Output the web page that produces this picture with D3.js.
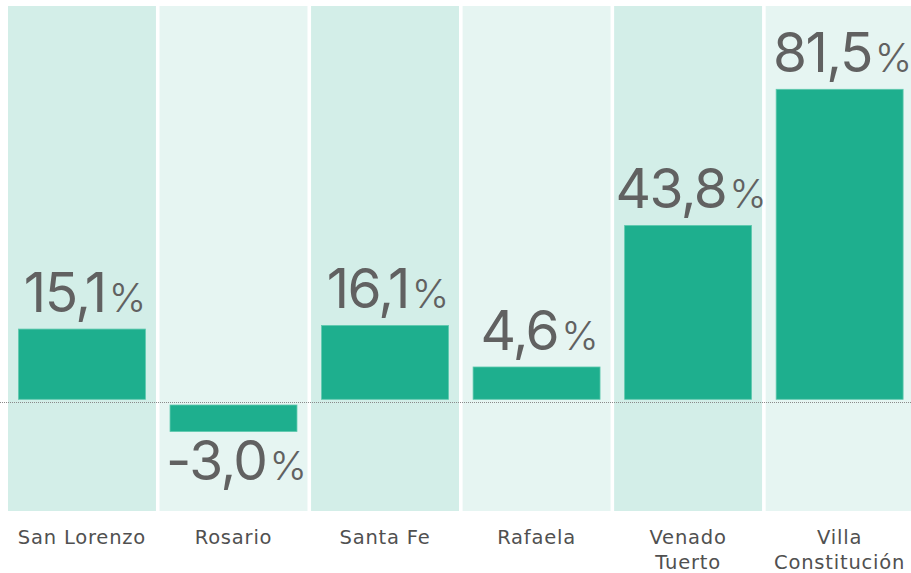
<!DOCTYPE html>
<html>
<head>
<meta charset="utf-8">
<script src="https://cdn.jsdelivr.net/npm/d3@7"></script>
<style>
  html, body { margin: 0; padding: 0; background: #ffffff; }
  svg { display: block; }
</style>
</head>
<body>
<svg id="chart" width="911" height="573"></svg>
<script>
// ---- data ----
const categories = ["San Lorenzo", "Rosario", "Santa Fe", "Rafaela", "Venado Tuerto", "Villa Constitución"];
const categoryLines = [["San Lorenzo"], ["Rosario"], ["Santa Fe"], ["Rafaela"], ["Venado", "Tuerto"], ["Villa", "Constitución"]];
const values = [15.1, -3.0, 16.1, 4.6, 43.8, 81.5];
const valueLabels = ["15,1", "-3,0", "16,1", "4,6", "43,8", "81,5"];

// ---- layout ----
const W = 911, H = 573;
const bandTop = 6, bandBottom = 511;
const zeroY = 402.5;
const posBase = 399.3, negBase = 405;
const svg = d3.select("#chart");

const x = d3.scaleBand()
  .domain(categories)
  .range([8, 913.6])
  .paddingInner(0.0237)
  .paddingOuter(0);

const maxV = d3.max(values);
// bar length scale (px)
const len = d3.scaleLinear().domain([0, maxV]).range([15.7, 310]);

const bandColors = ["#d3eee8", "#e6f5f2"];
const barColor = "#1eaf8e";
const textColor = "#616161";

// background bands
svg.append("g").selectAll("rect")
  .data(categories)
  .join("rect")
  .attr("x", d => x(d))
  .attr("y", bandTop)
  .attr("width", x.bandwidth())
  .attr("height", bandBottom - bandTop)
  .attr("fill", (d, i) => bandColors[i % 2]);

// zero line
svg.append("line")
  .attr("x1", 0).attr("x2", W)
  .attr("y1", zeroY).attr("y2", zeroY)
  .attr("stroke", "#8a8a8a")
  .attr("stroke-width", 1)
  .attr("stroke-dasharray", "1,1");

const inset = 10.5;
const data = categories.map((c, i) => ({ c, v: values[i], label: valueLabels[i], lines: categoryLines[i] }));

// bars
svg.append("g").selectAll("rect")
  .data(data)
  .join("rect")
  .attr("x", d => x(d.c) + inset)
  .attr("width", x.bandwidth() - 2 * inset)
  .attr("y", d => d.v >= 0 ? posBase - len(d.v) : negBase)
  .attr("height", d => len(Math.abs(d.v)))
  .attr("fill", barColor)
  .attr("stroke", "#5fc9ae")
  .attr("stroke-width", 0.8);

// value labels
const vl = svg.append("g").selectAll("text")
  .data(data)
  .join("text")
  .attr("x", d => x(d.c) + x.bandwidth() / 2 + 3)
  .attr("y", d => d.v >= 0 ? posBase - len(d.v) - 17 : negBase + len(Math.abs(d.v)) + 48)
  .attr("text-anchor", "middle")
  .attr("fill", textColor)
  .style("font-family", "Inter, 'DejaVu Sans', sans-serif");
vl.append("tspan").style("font-size", "55px").style("font-weight", 400).style("letter-spacing", "-1.5px").text(d => d.label);
vl.append("tspan").attr("dx", 3).style("font-size", "40px").style("font-weight", 300).text("%");

// category labels
const cl = svg.append("g").selectAll("text")
  .data(data)
  .join("text")
  .attr("x", d => x(d.c) + x.bandwidth() / 2)
  .attr("y", 543.5)
  .attr("text-anchor", "middle")
  .attr("fill", "#505050")
  .style("font-family", "'DejaVu Sans', sans-serif")
  .style("font-size", "19.5px")
  .style("letter-spacing", "0.8px");
cl.selectAll("tspan")
  .data(d => d.lines.map((t, j) => ({ t, j, cx: x(d.c) + x.bandwidth() / 2 })))
  .join("tspan")
  .attr("x", d => d.cx)
  .attr("dy", d => d.j === 0 ? 0 : 25)
  .text(d => d.t);
</script>
</body>
</html>
